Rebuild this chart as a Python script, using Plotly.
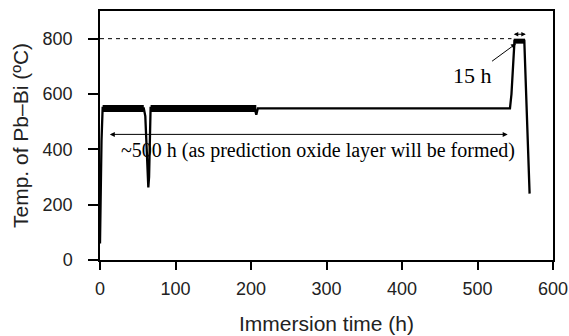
import plotly.graph_objects as go

# Main temperature trace (hours, °C)
time_h = [0, 1, 2, 3.5, 58, 60, 62, 64, 65, 66, 67, 205, 207, 209, 300, 400, 500, 543, 545, 547, 549, 562, 566, 569]
temp_c = [60, 270, 430, 550, 548, 520, 400, 262, 300, 480, 550, 548, 525, 548, 548, 548, 548, 548, 600, 700, 792, 792, 500, 240]

# Noisy (thick) plateau segments
band_x = [3.5, 58, None, 67, 207]
band_y = [548, 548, None, 548, 548]
top_x = [548, 563]
top_y = [791, 791]

# Reference level 800 °C
ref_x = [0, 545]
ref_y = [800, 800]

x_ticks = [0, 100, 200, 300, 400, 500, 600]
y_ticks = [0, 200, 400, 600, 800]

fig = go.Figure()
fig.add_trace(go.Scatter(x=ref_x, y=ref_y, mode="lines",
                         line=dict(color="black", width=1, dash="4px,4px")))
fig.add_trace(go.Scatter(x=time_h, y=temp_c, mode="lines",
                         line=dict(color="black", width=2.3)))
fig.add_trace(go.Scatter(x=band_x, y=band_y, mode="lines",
                         line=dict(color="black", width=7)))
fig.add_trace(go.Scatter(x=top_x, y=top_y, mode="lines",
                         line=dict(color="black", width=5)))

serif = dict(family="Liberation Serif", size=20, color="black")

# long double arrow
fig.add_annotation(x=540, y=454, ax=11, ay=454, xref="x", yref="y", axref="x", ayref="y",
                   text="", showarrow=True, arrowhead=2, arrowside="end+start",
                   arrowsize=1, arrowwidth=1, arrowcolor="black")
fig.add_annotation(x=289, y=397, xref="x", yref="y", showarrow=False,
                   text="~500 h (as prediction oxide layer will be formed)", font=serif)
# 15 h double arrow
fig.add_annotation(x=564, y=816, ax=546, ay=816, xref="x", yref="y", axref="x", ayref="y",
                   text="", showarrow=True, arrowhead=2, arrowside="end+start",
                   arrowsize=0.9, arrowwidth=1, arrowcolor="black")
fig.add_annotation(x=551, y=782, ax=494, ay=668, xref="x", yref="y", axref="x", ayref="y",
                   text="15 h", showarrow=True, arrowhead=2, arrowsize=1, arrowwidth=1,
                   arrowcolor="black", font=dict(family="Liberation Serif", size=22, color="black"))

ticks_font = dict(family="Liberation Sans", size=18, color="#222")
title_font = dict(family="Liberation Sans", size=21, color="#222")
fig.update_layout(
    width=569, height=336, margin=dict(l=100, r=16, t=11, b=76),
    paper_bgcolor="white", plot_bgcolor="white", showlegend=False,
    xaxis=dict(range=[0, 600], tickvals=x_ticks, ticks="outside", ticklen=8, tickwidth=1.5,
               tickcolor="black", showline=True, linecolor="black", linewidth=1.5, mirror=True,
               showgrid=False, zeroline=False, tickfont=ticks_font, ticklabelstandoff=4,
               automargin=False,
               title=dict(text="Immersion time (h)", font=title_font, standoff=18)),
    yaxis=dict(range=[0, 900], tickvals=y_ticks, ticks="outside", ticklen=10, tickwidth=1.5,
               tickcolor="black", showline=True, linecolor="black", linewidth=1.5, mirror=True,
               showgrid=False, zeroline=False, tickfont=ticks_font, ticklabelstandoff=12,
               automargin=False,
               title=dict(text="Temp. of Pb–Bi (ºC)", font=title_font, standoff=8)),
)
fig.write_html("out.html")
